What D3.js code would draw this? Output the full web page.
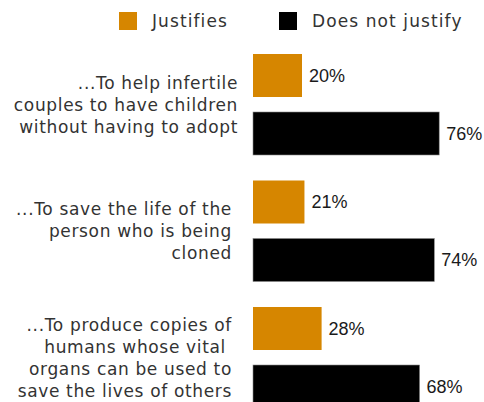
<!DOCTYPE html>
<html><head><meta charset="utf-8">
<script src="https://cdn.jsdelivr.net/npm/d3@7"></script>
<style>body{margin:0;background:#fff}svg{display:block}text{white-space:pre}</style>
</head><body>
<script>
const categories = [
  ["...To help infertile","couples to have children","without having to adopt"],
  ["...To save the life of the ","person who is being ","cloned "],
  ["...To produce copies of ","humans whose vital  ","organs can be used to ","save the lives of others "]
];
const series = ["Justifies","Does not justify"];
const justifies = [20, 21, 28];
const doesNotJustify = [76, 74, 68];
const colors = ["#D68600", "#000000"];

const W = 484, H = 402;
const svg = d3.select("body").append("svg").attr("width", W).attr("height", H);

const data = categories.map((c, i) => ({ id: i, lines: c, values: [justifies[i], doesNotJustify[i]] }));

const y = d3.scaleBand().domain(data.map(d => d.id)).range([54, 408]).paddingInner(25.5/126.5).paddingOuter(0);
const yi = d3.scaleBand().domain(series).range([0, y.bandwidth()]).paddingInner(15/58).paddingOuter(0);
const x = d3.scaleLinear().domain([0, 100]).range([253, 498]);

const g = svg.selectAll("g.grp").data(data).join("g").attr("class", "grp")
  .attr("transform", d => `translate(0,${y(d.id)})`);

g.selectAll("rect").data(d => d.values.map((v, k) => ({ s: series[k], v, k }))).join("rect")
  .attr("x", x(0)).attr("y", d => yi(d.s))
  .attr("width", d => x(d.v) - x(0)).attr("height", yi.bandwidth())
  .attr("fill", d => colors[d.k])
  .attr("stroke", d => d.k === 1 ? "#888" : "none").attr("stroke-width", 0.6);

g.selectAll("text.val").data(d => d.values.map((v, k) => ({ s: series[k], v, k }))).join("text")
  .attr("class", "val")
  .attr("x", d => x(d.v) + 7).attr("y", d => yi(d.s) + yi.bandwidth() / 2)
  .attr("dy", "0.36em")
  .attr("font-family", "Liberation Sans, Arial, sans-serif").attr("font-size", 18)
  .attr("fill", "#1a1a1a")
  .text(d => d.v + "%");

const lh = 22;
g.append("text").attr("class", "cat")
  .attr("text-anchor", "end")
  .attr("font-family", "DejaVu Sans, sans-serif").attr("font-size", 17)
  .attr("letter-spacing", 0.65)
  .attr("fill", "#333")
  .selectAll("tspan").data(d => d.lines.map((l, j) => ({ l, j, n: d.lines.length }))).join("tspan")
  .attr("x", 238)
  .attr("y", d => y.bandwidth() / 2 + (d.j - (d.n - 1) / 2) * lh)
  .attr("dy", "0.36em")
  .text(d => d.l);

const leg = svg.append("g");
const lx = [119, 279];
series.forEach((s, k) => {
  leg.append("rect").attr("x", lx[k]).attr("y", 12).attr("width", 18).attr("height", 18).attr("fill", colors[k]);
  leg.append("text").attr("x", lx[k] + 33).attr("y", 21).attr("dy", "0.36em")
    .attr("font-family", "DejaVu Sans, sans-serif").attr("font-size", 17)
    .attr("letter-spacing", 1.1).attr("fill", "#333").text(s);
});
</script>
</body></html>
